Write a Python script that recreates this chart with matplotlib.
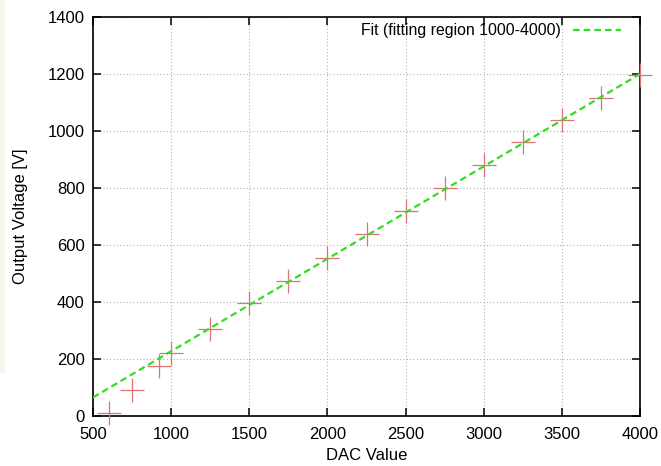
import numpy as np
import matplotlib.pyplot as plt
from matplotlib.patches import Rectangle

plt.rcParams['font.family'] = ['Liberation Sans', 'DejaVu Sans']

# measured points
dac = [600, 750, 920, 1000, 1250, 1500, 1750, 2000, 2250, 2500, 2750, 3000, 3250, 3500, 3750, 4000]
volt = [10, 91, 176, 221, 307, 395, 475, 555, 638, 720, 800, 880, 960, 1040, 1117, 1195]

# linear fit (region 1000-4000)
fit_a = 0.3243
fit_b = -97.0
fit_x = [500, 4000]

fig = plt.figure(figsize=(6.61, 4.66), dpi=100)
ax = fig.add_axes([0.1407, 0.1073, 0.8276, 0.8562])

# faint green strip at left edge of the original
fig.patches.append(Rectangle((0, 0.2), 0.008, 0.8, transform=fig.transFigure,
                             facecolor='#f2f7e8', edgecolor='none'))

ax.plot(dac, volt, linestyle='none', marker='+', markersize=17, markeredgewidth=0.9,
        color='#dd7373', clip_on=False, zorder=3)
fx = np.array(fit_x, dtype=float)
ax.plot(fx, fit_a * fx + fit_b, linestyle=(0, (3, 1.8)), color='#33dd22', linewidth=1.6,
        label='Fit (fitting region 1000-4000)', zorder=4)

ax.set_xlim(500, 4000)
ax.set_ylim(0, 1400)
ax.set_xticks(np.arange(500, 4001, 500))
ax.set_yticks(np.arange(0, 1401, 200))
ax.grid(True, linestyle=(0, (1, 2)), color='#b4b4b4', linewidth=0.8)
ax.tick_params(direction='in', top=True, right=True, length=6, width=1.1, labelsize=12)
ax.tick_params(axis='x', pad=8)
ax.tick_params(axis='y', pad=6)
for s in ax.spines.values():
    s.set_linewidth(1.2)

ax.set_xlabel('DAC Value', fontsize=12, labelpad=4)
ax.set_ylabel('Output Voltage [V]', fontsize=12, labelpad=14)

leg = ax.legend(loc='upper right', bbox_to_anchor=(0.985, 1.012), frameon=False,
                fontsize=11.4, markerfirst=False, handlelength=3.0, borderaxespad=0.3)

fig.savefig('out.png', dpi=100)
